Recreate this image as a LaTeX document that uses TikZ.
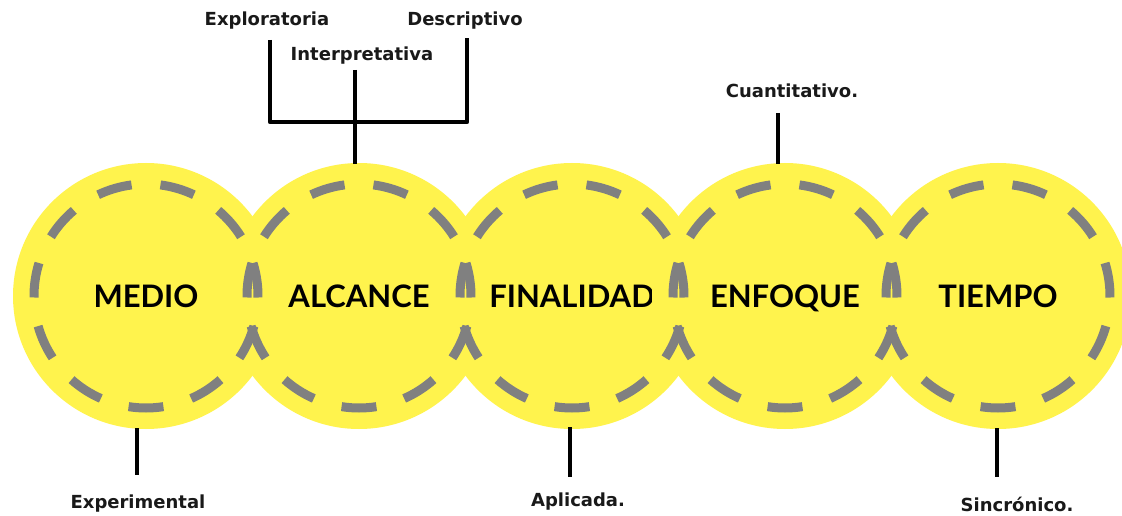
\documentclass[tikz,border=0pt]{standalone}
\usepackage{fontspec}
\newfontfamily\labfont{DejaVu Sans}
\newfontfamily\circfont{Lato}
\definecolor{sunyellow}{RGB}{255,243,77}
\definecolor{dashgray}{RGB}{128,128,128}
\definecolor{ink}{RGB}{25,25,25}
\begin{document}
\begin{tikzpicture}[x=1pt,y=-1pt,
  bubble/.style={circle, fill=sunyellow, inner sep=0pt, minimum size=266pt,
    font=\circfont\bfseries\fontsize{31}{33}\selectfont, text=black,
    text height=22pt, text depth=0pt},
  rim/.style={draw=dashgray, line width=9pt, line cap=butt},
  stem/.style={draw=black, line width=4.5pt, line join=round},
  tag/.style={font=\labfont\bfseries\fontsize{18}{20}\selectfont, text=ink, inner sep=0pt}]
\fill[white] (0,0) rectangle (1122,516);
\useasboundingbox (0,0) rectangle (1122,516);
\node[bubble] (medio) at (146,296) {MEDIO};
\node[bubble] (alcance) at (359,296) {ALCANCE};
\node[bubble] (finalidad) at (572,296) {FINALIDAD};
\node[bubble] (enfoque) at (785,296) {ENFOQUE};
\node[bubble] (tiempo) at (998,296) {TIEMPO};
\foreach \c in {medio,alcance,finalidad,enfoque,tiempo}
  \foreach \k in {0,...,10}
    \draw[rim] (\c.center) ++({278.95+32.727*\k}:112pt)
      arc[start angle={278.95+32.727*\k}, delta angle=-17.9, radius=112pt];
\node[tag] (explo) at (267,21) {Exploratoria};
\node[tag] (descr) at (465,21) {Descriptivo};
\node[tag] (inter) at (362,56) {Interpretativa};
\node[tag] (cuant) at (792,91) {Cuantitativo.};
\node[tag] (exper) at (138,504) {Experimental};
\node[tag] (aplic) at (578,502) {Aplicada.};
\node[tag] (sincr) at (1017,504) {Sincrónico.};
\coordinate (brkL) at (270,40);
\coordinate (brkR) at (467,122);
\coordinate (brkRtop) at (467,38);
\coordinate (brkM) at (355,70);
\coordinate (alcTop) at (355,164);
\coordinate (cuantFoot) at (778,113);
\coordinate (enfTop) at (778,164);
\coordinate (medBot) at (137,428);
\coordinate (experTop) at (137,475);
\coordinate (finBot) at (570,427);
\coordinate (aplicTop) at (570,477);
\coordinate (tieBot) at (997,428);
\coordinate (sincrTop) at (997,477);
\draw[stem] (brkL) |- (brkR) -- (brkRtop);
\draw[stem] (brkM) -- (alcTop);
\draw[stem] (cuantFoot) -- (enfTop);
\draw[stem] (medBot) -- (experTop);
\draw[stem] (finBot) -- (aplicTop);
\draw[stem] (tieBot) -- (sincrTop);
\end{tikzpicture}
\end{document}
